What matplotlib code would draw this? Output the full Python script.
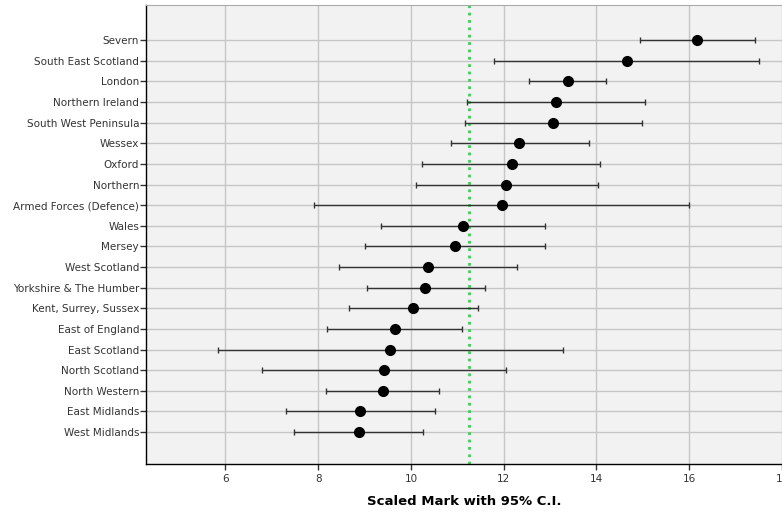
import numpy as np
import matplotlib
matplotlib.use("Agg")
import matplotlib.pyplot as plt

# regions, top to bottom as drawn
regions = ["Severn", "South East Scotland", "London", "Northern Ireland",
           "South West Peninsula", "Wessex", "Oxford", "Northern",
           "Armed Forces (Defence)", "Wales", "Mersey", "West Scotland",
           "Yorkshire & The Humber", "Kent, Surrey, Sussex", "East of England",
           "East Scotland", "North Scotland", "North Western", "East Midlands",
           "West Midlands"]
mean_mark = [16.17, 14.65, 13.39, 13.12, 13.07, 12.33, 12.17, 12.06, 11.97, 11.13,
             10.95, 10.37, 10.31, 10.05, 9.65, 9.55, 9.42, 9.39, 8.91, 8.88]
ci_low = [14.93, 11.79, 12.55, 11.20, 11.16, 10.86, 10.25, 10.10, 7.92, 9.35,
          9.01, 8.46, 9.05, 8.67, 8.19, 5.85, 6.78, 8.16, 7.30, 7.49]
ci_high = [17.42, 17.51, 14.21, 15.04, 14.98, 13.83, 14.08, 14.03, 16.00, 12.90,
           12.89, 12.29, 11.59, 11.45, 11.10, 13.28, 12.05, 10.61, 10.53, 10.27]
overall_mean = 11.25
x_ticks = [6, 8, 10, 12, 14, 16, 18]

fig = plt.figure(figsize=(7.82, 5.13), dpi=100)
ax = fig.add_axes([0.1867, 0.0955, 0.8133, 0.8945])
ax.set_facecolor("#f2f2f2")

ypos = np.arange(len(regions))[::-1] + 1
mean_mark = np.array(mean_mark)
lo_err = mean_mark - np.array(ci_low)
hi_err = np.array(ci_high) - mean_mark

ax.errorbar(mean_mark, ypos, xerr=[lo_err, hi_err], fmt="o", color="black",
            ecolor="#333333", elinewidth=1.0, capsize=2.5, capthick=1.0,
            markersize=7, zorder=3)
ax.axvline(overall_mean, color="#3fcc5a", linestyle=":", linewidth=2, zorder=2)

ax.set_xlim(4.29, 18.0)
ax.set_ylim(-0.55, 21.7)
ax.set_xticks(x_ticks)
ax.set_yticks(ypos)
ax.set_yticklabels(regions)
ax.grid(True, color="#c6c6c6", linewidth=1.0, zorder=0)
ax.set_axisbelow(True)

ax.tick_params(axis="y", length=4, width=1, color="#333333", labelsize=7.5, labelcolor="#333333", pad=1)
ax.tick_params(axis="x", length=4, width=1, color="#333333", labelsize=7.5, labelcolor="#333333", pad=3)

ax.spines["left"].set_color("black")
ax.spines["bottom"].set_color("black")
ax.spines["top"].set_color("#aaaaaa")
ax.spines["right"].set_visible(False)
for s in ["left", "bottom"]:
    ax.spines[s].set_linewidth(1.0)

ax.set_xlabel("Scaled Mark with 95% C.I.", fontsize=9.5, fontweight="bold", labelpad=8)

fig.savefig("out.png", dpi=100)
